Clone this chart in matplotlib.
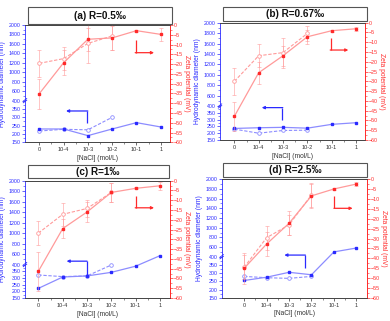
import numpy as np
import matplotlib
matplotlib.use('Agg')
import matplotlib.pyplot as plt
from matplotlib.patches import Rectangle
from matplotlib.ticker import FixedLocator

plt.rcParams['font.family'] = ['Liberation Sans', 'DejaVu Sans']

# ---------------- data ----------------
categories = ['0', '10-4', '10-3', '10-2', '10-1', '1']
titles = ['(a) R=0.5‰', '(b) R=0.67‰', '(c) R=1‰', '(d) R=2.5‰']

# hydrodynamic diameter (nm): filled = solid line, open = dashed line (first 4 concentrations)
dh_a = [230, 230, 190, 230, 268, 242]
dh_open_a = [218, 228, 225, 300]
dh_b = [235, 240, 243, 237, 265, 277]
dh_open_b = [230, 200, 220, 222]
dh_c = [222, 307, 315, 342, 388, 570]
dh_open_c = [322, 310, 315, 397]
dh_d = [255, 275, 305, 290, 500, 580]
dh_open_d = [280, 272, 268, 280]

# zeta potential (mV)
zeta_a = [-35.1, -19.3, -7.3, -6.6, -2.9, -4.8]
zeta_err_a = [7.7, 6.5, 6.0, 6.0, 0.5, 3.5]
zeta_open_a = [-19.6, -17.2, -9.4, -5.6]
zeta_open_err_a = [6.8, 5.8, 10.0, 7.0]

zeta_b = [-47.9, -25.6, -16.9, -7.2, -4.1, -3.1]
zeta_err_b = [7.5, 5.5, 5.0, 3.5, 0.5, 1.0]
zeta_open_b = [-30.0, -16.9, -15.3, -5.5]
zeta_open_err_b = [6.8, 6.0, 7.7, 4.0]

zeta_c = [-46.3, -24.5, -16.0, -6.0, -3.9, -2.6]
zeta_err_c = [10.0, 5.0, 5.0, 5.0, 0.5, 2.0]
zeta_open_c = [-26.8, -17.2, -14.2, -6.0]
zeta_open_err_c = [6.0, 6.0, 4.5, 5.0]

zeta_d = [-45.1, -32.8, -22.3, -8.4, -4.9, -2.4]
zeta_err_d = [8.0, 6.0, 6.0, 6.0, 0.5, 1.0]
zeta_open_d = [-44.6, -29.6, -23.1, -7.9]
zeta_open_err_d = [6.0, 6.0, 5.0, 6.0]

left_ticks = [150, 200, 250, 300, 350, 400, 600, 800, 1000, 1200, 1400, 1600, 1800, 2000]
left_minor = [175, 225, 275, 325, 375, 500, 700, 900, 1100, 1300, 1500, 1700, 1900]
right_ticks = list(range(0, -65, -5))

panels = [
    dict(title=titles[0], dh=dh_a, dho=dh_open_a, z=zeta_a, ze=zeta_err_a, zo=zeta_open_a, zoe=zeta_open_err_a,
         rect=[25, 25, 145, 117.3], frac=0.355, xlim=(-0.59, 5.38),
         box=(0.02, 1.01, 1.014, 1.15), barrow=(0.43, 0.283, 0.267, 0.162), rarrow=(0.763, 0.89, 0.872, 0.764)),
    dict(title=titles[1], dh=dh_b, dho=dh_open_b, z=zeta_b, ze=zeta_err_b, zo=zeta_open_b, zoe=zeta_open_err_b,
         rect=[220, 22.7, 145, 117.3], frac=0.29, xlim=(-0.59, 5.37),
         box=(0.02, 1.015, 1.014, 1.134), barrow=(0.43, 0.288, 0.276, 0.17), rarrow=(0.763, 0.885, 0.872, 0.767)),
    dict(title=titles[2], dh=dh_c, dho=dh_open_c, z=zeta_c, ze=zeta_err_c, zo=zeta_open_c, zoe=zeta_open_err_c,
         rect=[25, 180.7, 145, 117.3], frac=0.285, xlim=(-0.55, 5.41),
         box=(0.02, 1.02, 0.99, 1.135), barrow=(0.425, 0.287, 0.314, 0.197), rarrow=(0.763, 0.89, 0.869, 0.769)),
    dict(title=titles[3], dh=dh_d, dho=dh_open_d, z=zeta_d, ze=zeta_err_d, zo=zeta_open_d, zoe=zeta_open_err_d,
         rect=[221.7, 179.3, 145, 118.4], frac=0.346, xlim=(-1.0, 5.46),
         box=(0.01, 1.02, 1.0, 1.135), barrow=(0.574, 0.432, 0.36, 0.253), rarrow=(0.777, 0.903, 0.859, 0.755)),
]

BLUE = '#2a2aff'
BLUE_L = '#8c8cff'
RED = '#ff2a2a'
RED_L = '#ff9a9a'
TXT = '#333333'

W, H = 390, 321
fig = plt.figure(figsize=(W / 100, H / 100), dpi=100)


def make_scale(frac):
    def fwd(v):
        v = np.asarray(v, dtype=float)
        return np.where(v <= 400, (v - 150) / 250 * frac, frac + (v - 400) / 1600 * (1 - frac))

    def inv(u):
        u = np.asarray(u, dtype=float)
        return np.where(u <= frac, 150 + u / frac * 250, 400 + (u - frac) / (1 - frac) * 1600)
    return fwd, inv


for p in panels:
    x0, y0, w, h = p['rect']
    ax = fig.add_axes([x0 / W, 1 - (y0 + h) / H, w / W, h / H])
    ax2 = ax.twinx()
    x = np.arange(len(categories))
    xo = np.arange(len(p['dho']))

    ax.set_yscale('function', functions=make_scale(p['frac']))
    ax.set_ylim(150, 2000)
    ax.set_xlim(*p['xlim'])

    # blue: hydrodynamic diameter
    ax.plot(xo, p['dho'], ls=(0, (3, 1.5)), color=BLUE_L, lw=0.8, marker='o', ms=2.6,
            mfc='white', mec=BLUE_L, mew=0.6, zorder=3)
    ax.plot(x, p['dh'], ls='-', color=BLUE_L, lw=0.9, marker='s', ms=2.1,
            mfc=BLUE, mec=BLUE, zorder=4)

    # red: zeta potential
    ax2.set_ylim(-60, 0)
    ax2.errorbar(xo, p['zo'], yerr=p['zoe'], fmt='none', ecolor=RED_L, elinewidth=0.5,
                 capsize=1.2, capthick=0.5, alpha=0.8)
    ax2.errorbar(x, p['z'], yerr=p['ze'], fmt='none', ecolor=RED_L, elinewidth=0.5,
                 capsize=1.2, capthick=0.5, alpha=0.8)
    ax2.plot(xo, p['zo'], ls=(0, (3, 1.5)), color=RED_L, lw=0.8, marker='o', ms=2.6,
             mfc='white', mec=RED_L, mew=0.6)
    ax2.plot(x, p['z'], ls='-', color=RED_L, lw=0.9, marker='s', ms=2.1, mfc=RED, mec=RED)

    # ticks / spines
    ax.set_xticks(x)
    ax.set_xticklabels(categories)
    ax.xaxis.set_minor_locator(FixedLocator(x[:-1] + 0.5))
    ax.yaxis.set_major_locator(FixedLocator(left_ticks))
    ax.yaxis.set_minor_locator(FixedLocator(left_minor))
    ax.set_yticklabels([str(t) for t in left_ticks])
    ax.tick_params(axis='x', which='major', labelsize=4, colors=TXT, length=2, width=0.5, pad=1.5)
    ax.tick_params(axis='x', which='minor', length=1.2, width=0.4, colors=TXT)
    ax.tick_params(axis='y', which='major', labelsize=3.8, colors=BLUE, length=2, width=0.5, pad=1)
    ax.tick_params(axis='y', which='minor', length=1.2, width=0.4, colors=BLUE)
    ax2.yaxis.set_major_locator(FixedLocator(right_ticks))
    ax2.yaxis.set_minor_locator(FixedLocator([t - 2.5 for t in right_ticks[:-1]]))
    ax2.tick_params(axis='y', which='major', labelsize=3.8, colors=RED, length=2, width=0.5, pad=1)
    ax2.tick_params(axis='y', which='minor', length=1.2, width=0.4, colors=RED)

    for a in (ax, ax2):
        a.spines['left'].set_color(BLUE)
        a.spines['right'].set_color(RED)
        a.spines['bottom'].set_color('#444444')
        a.spines['top'].set_color('#444444')
        for s in a.spines.values():
            s.set_linewidth(0.6)
    ax2.spines['left'].set_visible(False)

    ax.set_ylabel('Hydrodynamic diameter (nm)', color=BLUE, fontsize=4.8, labelpad=2)
    ax2.set_ylabel('Zeta potential (mV)', color=RED, fontsize=4.8, rotation=270, labelpad=5)
    ax.set_xlabel('[NaCl] (mol/L)', color=TXT, fontsize=4.8, labelpad=2)

    # axis break mark at 400 on the left axis
    f = p['frac']
    ax.plot([-0.012, 0.012], [f - 0.018, f + 0.004], transform=ax.transAxes, color=BLUE,
            lw=0.6, clip_on=False, zorder=6)
    ax.plot([-0.012, 0.012], [f - 0.004, f + 0.018], transform=ax.transAxes, color=BLUE,
            lw=0.6, clip_on=False, zorder=6)

    # title box
    bx0, by0, bx1, by1 = p['box']
    ax2.add_patch(Rectangle((bx0, by0), bx1 - bx0, by1 - by0, transform=ax2.transAxes,
                            facecolor='white', edgecolor='#555555', lw=0.8, clip_on=False, zorder=10))
    ax2.text((bx0 + bx1) / 2, (by0 + by1) / 2, p['title'], transform=ax2.transAxes,
             ha='center', va='center', fontsize=7.2, fontweight='bold', color='#111111', zorder=11)

    # blue bent arrow (points left)
    xv, xh, yt, yb = p['barrow']
    ax2.plot([xv, xv], [yb, yt], transform=ax2.transAxes, color=BLUE, lw=0.9, solid_capstyle='butt')
    ax2.annotate('', xy=(xh, yt), xytext=(xv + 0.003, yt), xycoords='axes fraction',
                 arrowprops=dict(arrowstyle='-|>', color=BLUE, lw=0.9, mutation_scale=4,
                                 shrinkA=0, shrinkB=0))
    # red bent arrow (points right)
    xv, xh, yt, yb = p['rarrow']
    ax2.plot([xv, xv], [yb, yt], transform=ax2.transAxes, color=RED, lw=0.9, solid_capstyle='butt')
    ax2.annotate('', xy=(xh, yb), xytext=(xv - 0.003, yb), xycoords='axes fraction',
                 arrowprops=dict(arrowstyle='-|>', color=RED, lw=0.9, mutation_scale=4,
                                 shrinkA=0, shrinkB=0))

fig.savefig('out.png', dpi=100, facecolor='white')
